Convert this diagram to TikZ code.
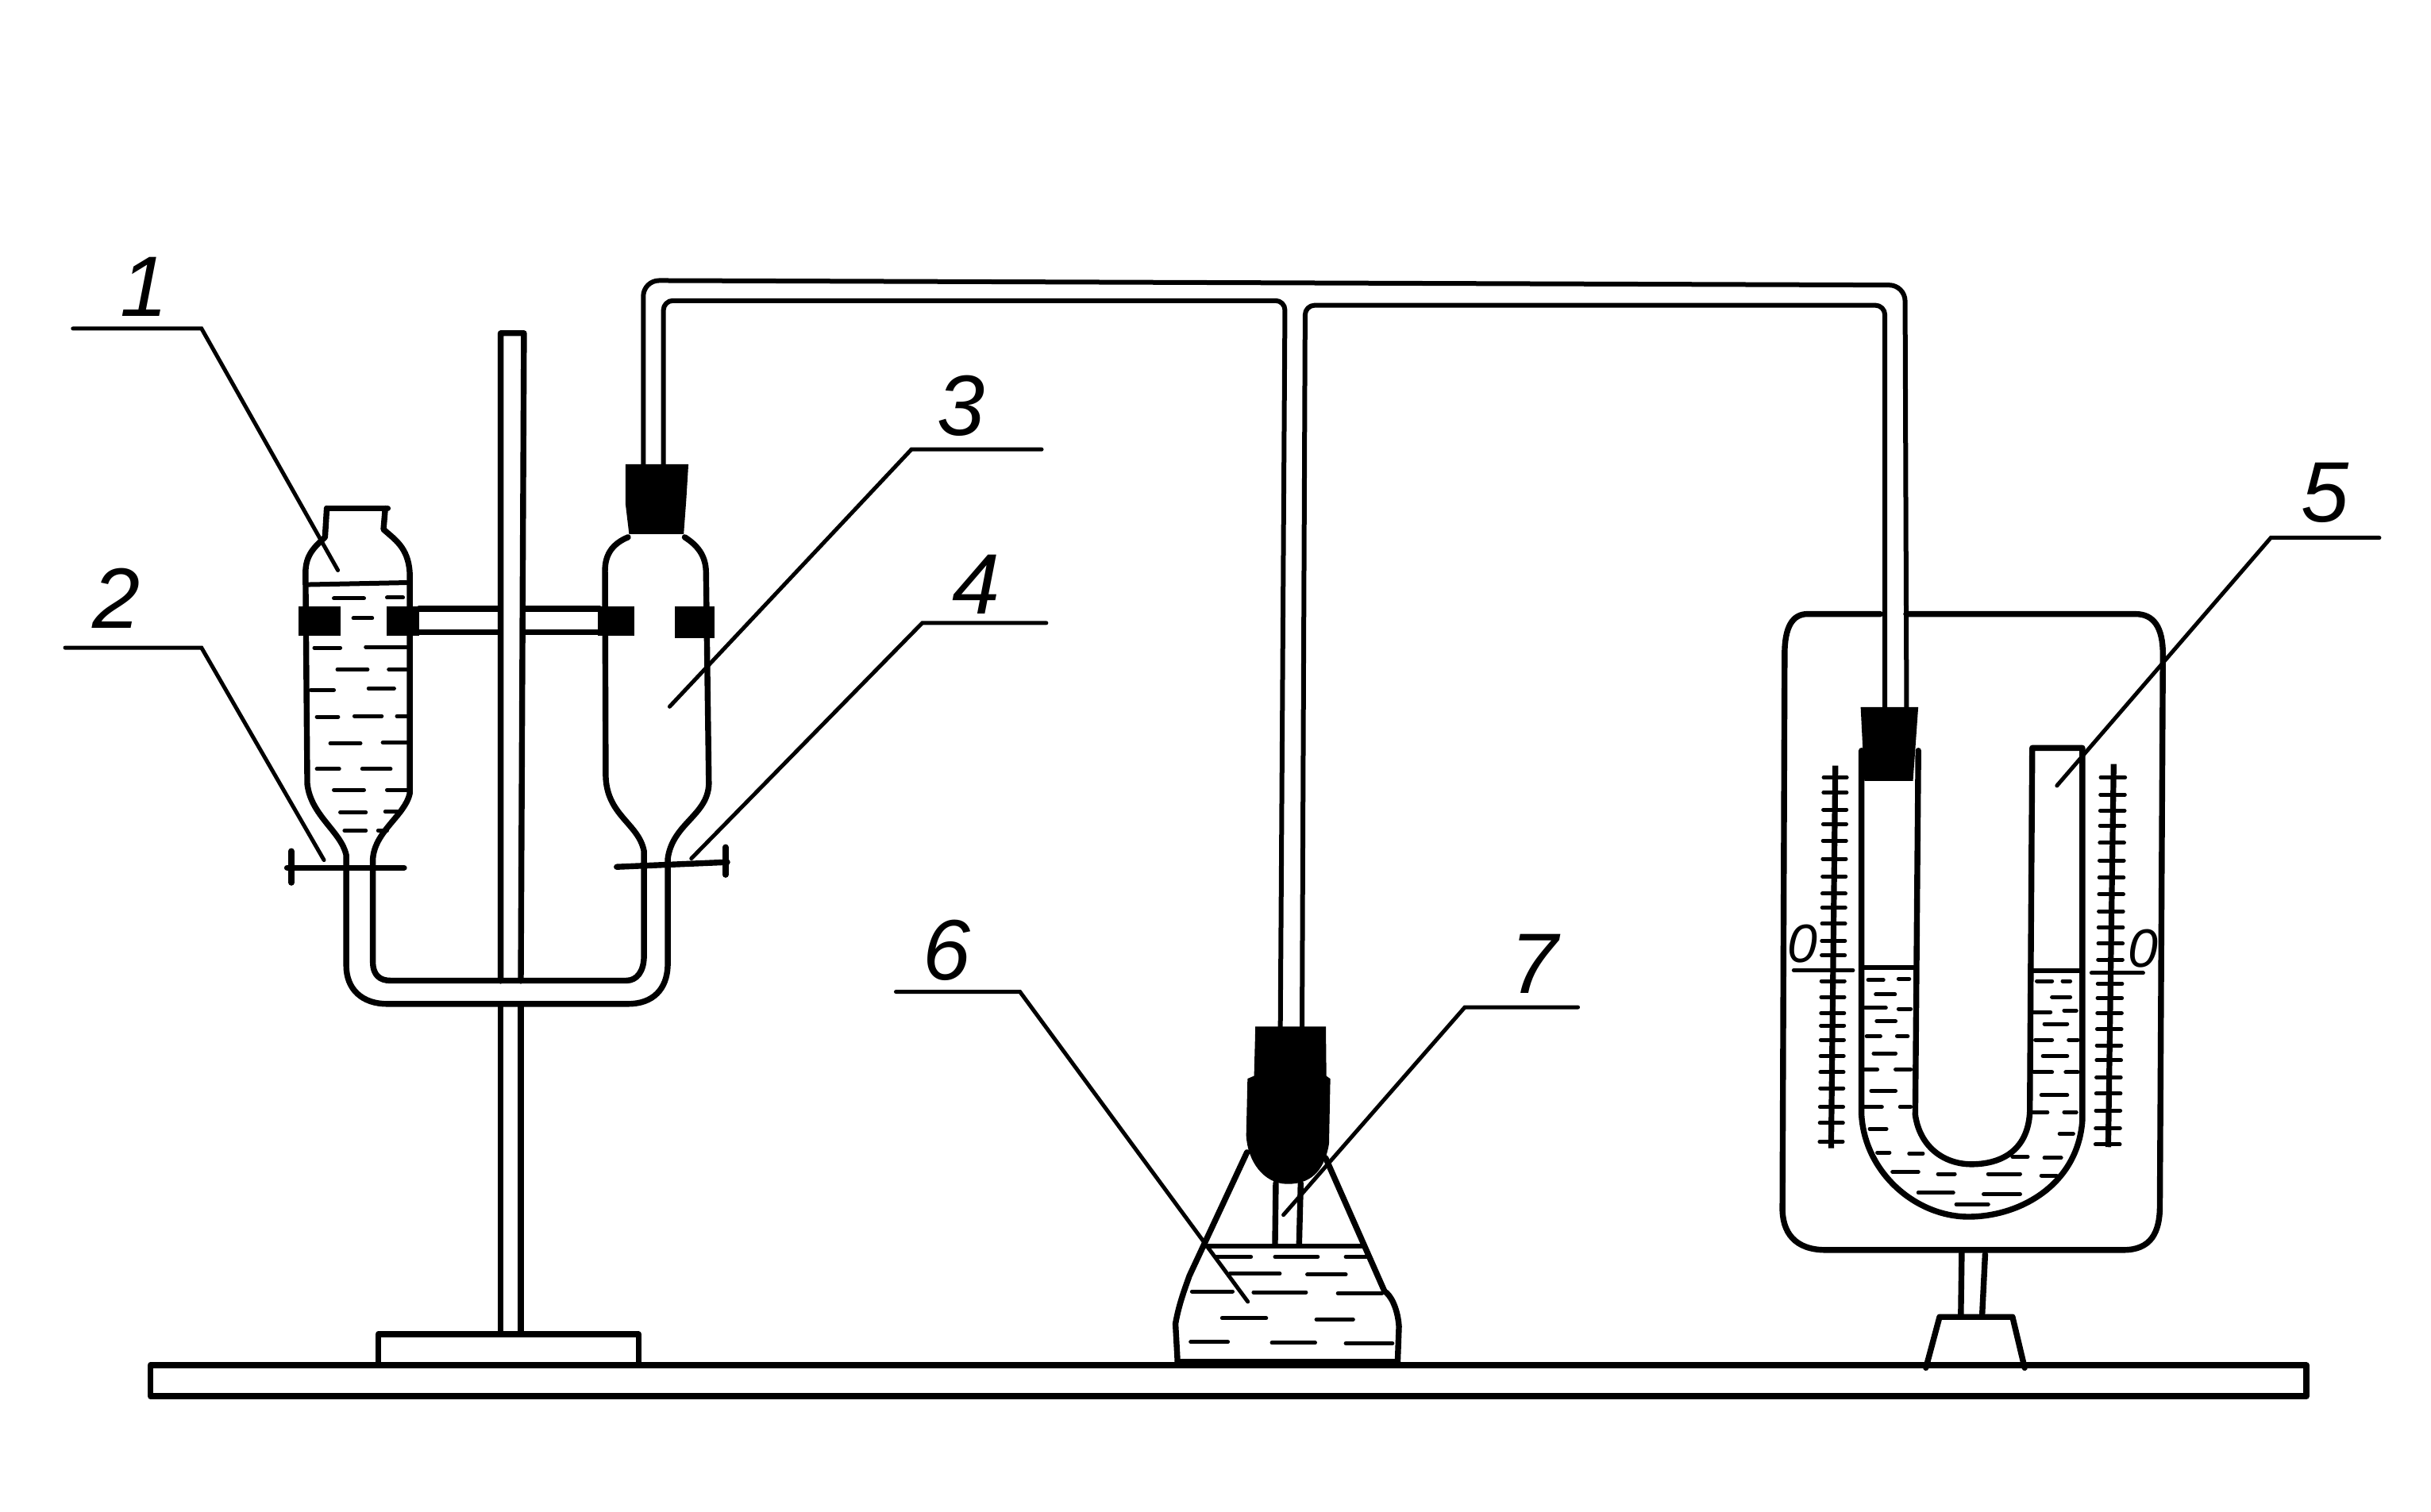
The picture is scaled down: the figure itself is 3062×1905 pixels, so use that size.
\documentclass[tikz,border=0pt]{standalone}
\usepackage{fontspec}
\setmainfont{Liberation Sans}
\tikzset{
  glass/.style={line width=1.85pt,line join=round,line cap=round},
  thin glass/.style={line width=1.5pt,line join=round,line cap=round},
  liq/.style={line width=1.25pt,line cap=round},
  leader/.style={line width=1.25pt,line cap=round},
  black part/.style={fill=black,draw=black,line width=.5pt},
  num/.style={font=\fontsize{27}{27}\selectfont\itshape,inner sep=0pt},
  scalezero/.style={font=\fontsize{17}{17}\selectfont\itshape,inner sep=0pt}
}
\begin{document}
\begin{tikzpicture}[x=.25pt,y=-.25pt]
\useasboundingbox (0,0) rectangle (3062,1905);
\fill[white] (0,0) rectangle (3062,1905);

% parts placed in reference coordinates
\begin{scope}[x=.4881pt,y=-.4881pt]
  \draw[glass] (97,881) rectangle (1488,901);
  \draw[glass] (244,880) -- (244,861) -- (412,861) -- (412,880);
  \draw[glass] (323,633) -- (323,215) -- (338,215) -- (336,633);
  \draw[glass] (323,649) -- (323,861);
  \draw[glass] (336,649) -- (336,861);
  % connecting tubes
  \draw[thin glass,rounded corners=5pt] (415,300) -- (415,181) -- (1229,184) -- (1230,457);
  \draw[thin glass,rounded corners=3pt] (428,300) -- (428,194) -- (829,194) -- (826,663);
  \draw[thin glass,rounded corners=3pt] (840,663) -- (842,197) -- (1216,197) -- (1216,457);
  % leaders and numbers
  \node[num] (n1) at (93,185) {1};
  \node[num] (n2) at (75,386) {2};
  \node[num] (n3) at (620,262) {3};
  \node[num] (n4) at (630,377) {4};
  \node[num] (n5) at (1500,318) {5};
  \node[num] (n6) at (611,613) {6};
  \node[num] (n7) at (990,622) {7};
  \draw[leader] (47,212) -- (130,212) -- (218,368);
  \draw[leader] (42,418) -- (130,418) -- (209,555);
  \draw[leader] (672,290) -- (588,290) -- (432,456);
  \draw[leader] (675,402) -- (595,402) -- (446,554);
  \draw[leader] (1535,347) -- (1465,347) -- (1327,507);
  \draw[leader] (578,640) -- (658,640) -- (805,840);
  \draw[leader] (1018,650) -- (945,650) -- (828,784);
\end{scope}

% vessels 1 and 3 with the U connection
\begin{scope}[shift={(300,550)},x=.11161pt,y=-.12436pt]
  \draw[glass] (250,182) -- (422,182);
  \draw[glass] (250,182) -- (245,255) .. controls (215,280) and (190,300) .. (190,345)
    -- (195,880) .. controls (205,960) and (290,1000) .. (305,1060)
    -- (305,1340) .. controls (305,1400) and (350,1437) .. (420,1437)
    -- (1100,1437) .. controls (1170,1437) and (1210,1400) .. (1212,1340)
    -- (1212,1070) .. controls (1225,980) and (1325,960) .. (1328,880)
    -- (1320,340) .. controls (1318,300) and (1295,275) .. (1260,255);
  \draw[glass] (415,182) -- (410,235) .. controls (440,260) and (480,280) .. (484,345)
    -- (484,905) .. controls (470,960) and (385,1000) .. (380,1070)
    -- (380,1330) .. controls (380,1365) and (400,1378) .. (430,1378)
    -- (1095,1378) .. controls (1125,1378) and (1145,1355) .. (1145,1315)
    -- (1145,1050) .. controls (1130,980) and (1040,960) .. (1037,860)
    -- (1035,340) .. controls (1035,295) and (1060,270) .. (1100,255);
  % clamp arm
  \draw[glass] (510,436) -- (735,436);
  \draw[glass] (510,495) -- (735,495);
  \draw[glass] (805,436) -- (1020,436);
  \draw[glass] (805,495) -- (1020,495);
  % clamp pads
  \fill[black] (170,430) rectangle (290,505);
  \fill[black] (420,430) rectangle (510,505);
  \fill[black] (1015,430) rectangle (1118,505);
  \fill[black] (1232,430) rectangle (1345,510);
  % stopper
  \path[black part] (1095,72) -- (1268,72) -- (1262,160) -- (1255,245) -- (1105,245) -- (1095,170) -- cycle;
  % pinch clamps
  \draw[glass] (138,1092) -- (468,1092);
  \draw[glass] (150,1050) -- (150,1130);
  \draw[glass] (1068,1090) -- (1380,1078);
  \draw[glass] (1375,1040) -- (1375,1110);
  % liquid
  \draw[thin glass] (198,375) -- (475,370);
  \foreach \a/\b/\c in {270/355/410,420/465/408,325/378/460,215/288/535,360/475/533,
     280/365/590,425/475/590,205/270/642,368/440/638,222/282/710,328/405/708,448/478/708,
     260/345/777,408/480/775,222/285/842,350/430/842,270/355/895,420/475/895,288/360/952,
     415/450/950,300/360/998,395/420/998}
    \draw[liq] (\a,\c) -- (\b,\c);
\end{scope}

% flask
\begin{scope}[shift={(1404,1250)},x=.0825pt,y=-.0885pt]
  \draw[glass] (240,1315) -- (232,1180) .. controls (245,1110) and (270,1050) .. (285,1010) -- (505,570);
  \draw[glass] (1080,1315) -- (1085,1190) .. controls (1080,1120) and (1050,1075) .. (1030,1065) -- (805,590);
  \draw[glass] (240,1315) -- (1080,1315);
  \draw[thin glass] (340,903) -- (950,903);
  \draw[glass] (615,680) -- (612,895);
  \draw[glass] (710,680) -- (704,895);
  \path[black part] (540,125) -- (803,125) -- (805,300) -- (820,310) -- (815,540)
     .. controls (800,620) and (760,680) .. (660,680) .. controls (570,680) and (510,600) .. (505,510)
     -- (510,310) -- (535,300) -- cycle;
  \foreach \a/\b/\c in {385/520/942,612/775/942,882/965/942,440/630/1002,735/882/1005,295/450/1065,
     530/730/1068,852/1020/1072,410/578/1160,770/910/1165,290/432/1245,600/765/1248,882/1060/1250}
    \draw[liq] (\a,\c) -- (\b,\c);
\end{scope}

% manometer
\begin{scope}[shift={(2200,750)},x=.09567pt,y=-.16875pt]
  \draw[glass] (440,35) -- (200,35) .. controls (150,35) and (125,60) .. (125,110)
     -- (118,1140) .. controls (115,1190) and (160,1222) .. (260,1222)
     -- (1240,1222) .. controls (1330,1222) and (1360,1190) .. (1360,1140)
     -- (1370,110) .. controls (1370,60) and (1340,35) .. (1280,35) -- (525,35);
  % U tube
  \draw[glass] (378,290) -- (378,970) .. controls (390,1080) and (560,1160) .. (730,1160)
     .. controls (900,1160) and (1090,1100) .. (1105,980) -- (1105,285) -- (940,285)
     -- (932,965) .. controls (925,1040) and (830,1062) .. (740,1062)
     .. controls (650,1062) and (570,1030) .. (555,970) -- (565,290);
  \path[black part] (378,210) -- (562,210) -- (545,345) -- (390,345) -- cycle;
  \draw[thin glass] (385,695) -- (550,695);
  \draw[thin glass] (940,700) -- (1095,700);
  \foreach \a/\b/\c in {400/450/718,500/535/716,425/488/745,390/458/770,500/540/772,428/490/795,
     395/440/823,495/530/823,418/490/855,388/430/885,490/540/885,410/490/925,385/445/955,505/540/955,
     405/460/996,955/1005/720,1040/1065/720,1005/1065/750,945/1000/778,1045/1085/775,980/1055/800,
     950/1005/830,1060/1090/830,975/1055/860,945/1005/890,1050/1090/890,970/1055/933,940/990/965,
     1045/1085/965,1030/1075/1005,430/470/1040,535/580/1042,480/565/1076,630/685/1080,795/900/1080,
     875/925/1048,980/1035/1050,970/1020/1083,565/680/1115,780/900/1118,690/795/1137}
    \draw[liq] (\a,\c) -- (\b,\c);
  % scales
  \draw[line width=1.8pt] (292,318) -- (278,1032);
  \draw[line width=1.8pt] (1208,315) -- (1190,1030);
  \foreach \y in {340,368,400,427,458,492,525,557,583,613,645,672,720,750,780,803,830,860,890,920,955,985,1020}
    \draw[liq] ({292-(\y-318)*14/714-38},\y) -- ({292-(\y-318)*14/714+38},\y);
  \foreach \y in {340,372,402,430,462,495,527,558,590,620,650,680,725,752,780,810,840,868,900,930,962,995,1025}
    \draw[liq] ({1208-(\y-315)*18/715-42},\y) -- ({1208-(\y-315)*18/715+38},\y);
  \draw[liq] (155,700) -- (350,700);
  \draw[liq] (1135,705) -- (1305,705);
  \node[scalezero] (z1) at (185,650) {0};
  \node[scalezero] (z2) at (1305,660) {0};
  % stand
  \draw[glass] (708,1225) -- (705,1345);
  \draw[glass] (785,1230) -- (775,1345);
  \draw[glass] (590,1442) -- (635,1347) -- (875,1347) -- (915,1442);
\end{scope}
\end{tikzpicture}
\end{document}
